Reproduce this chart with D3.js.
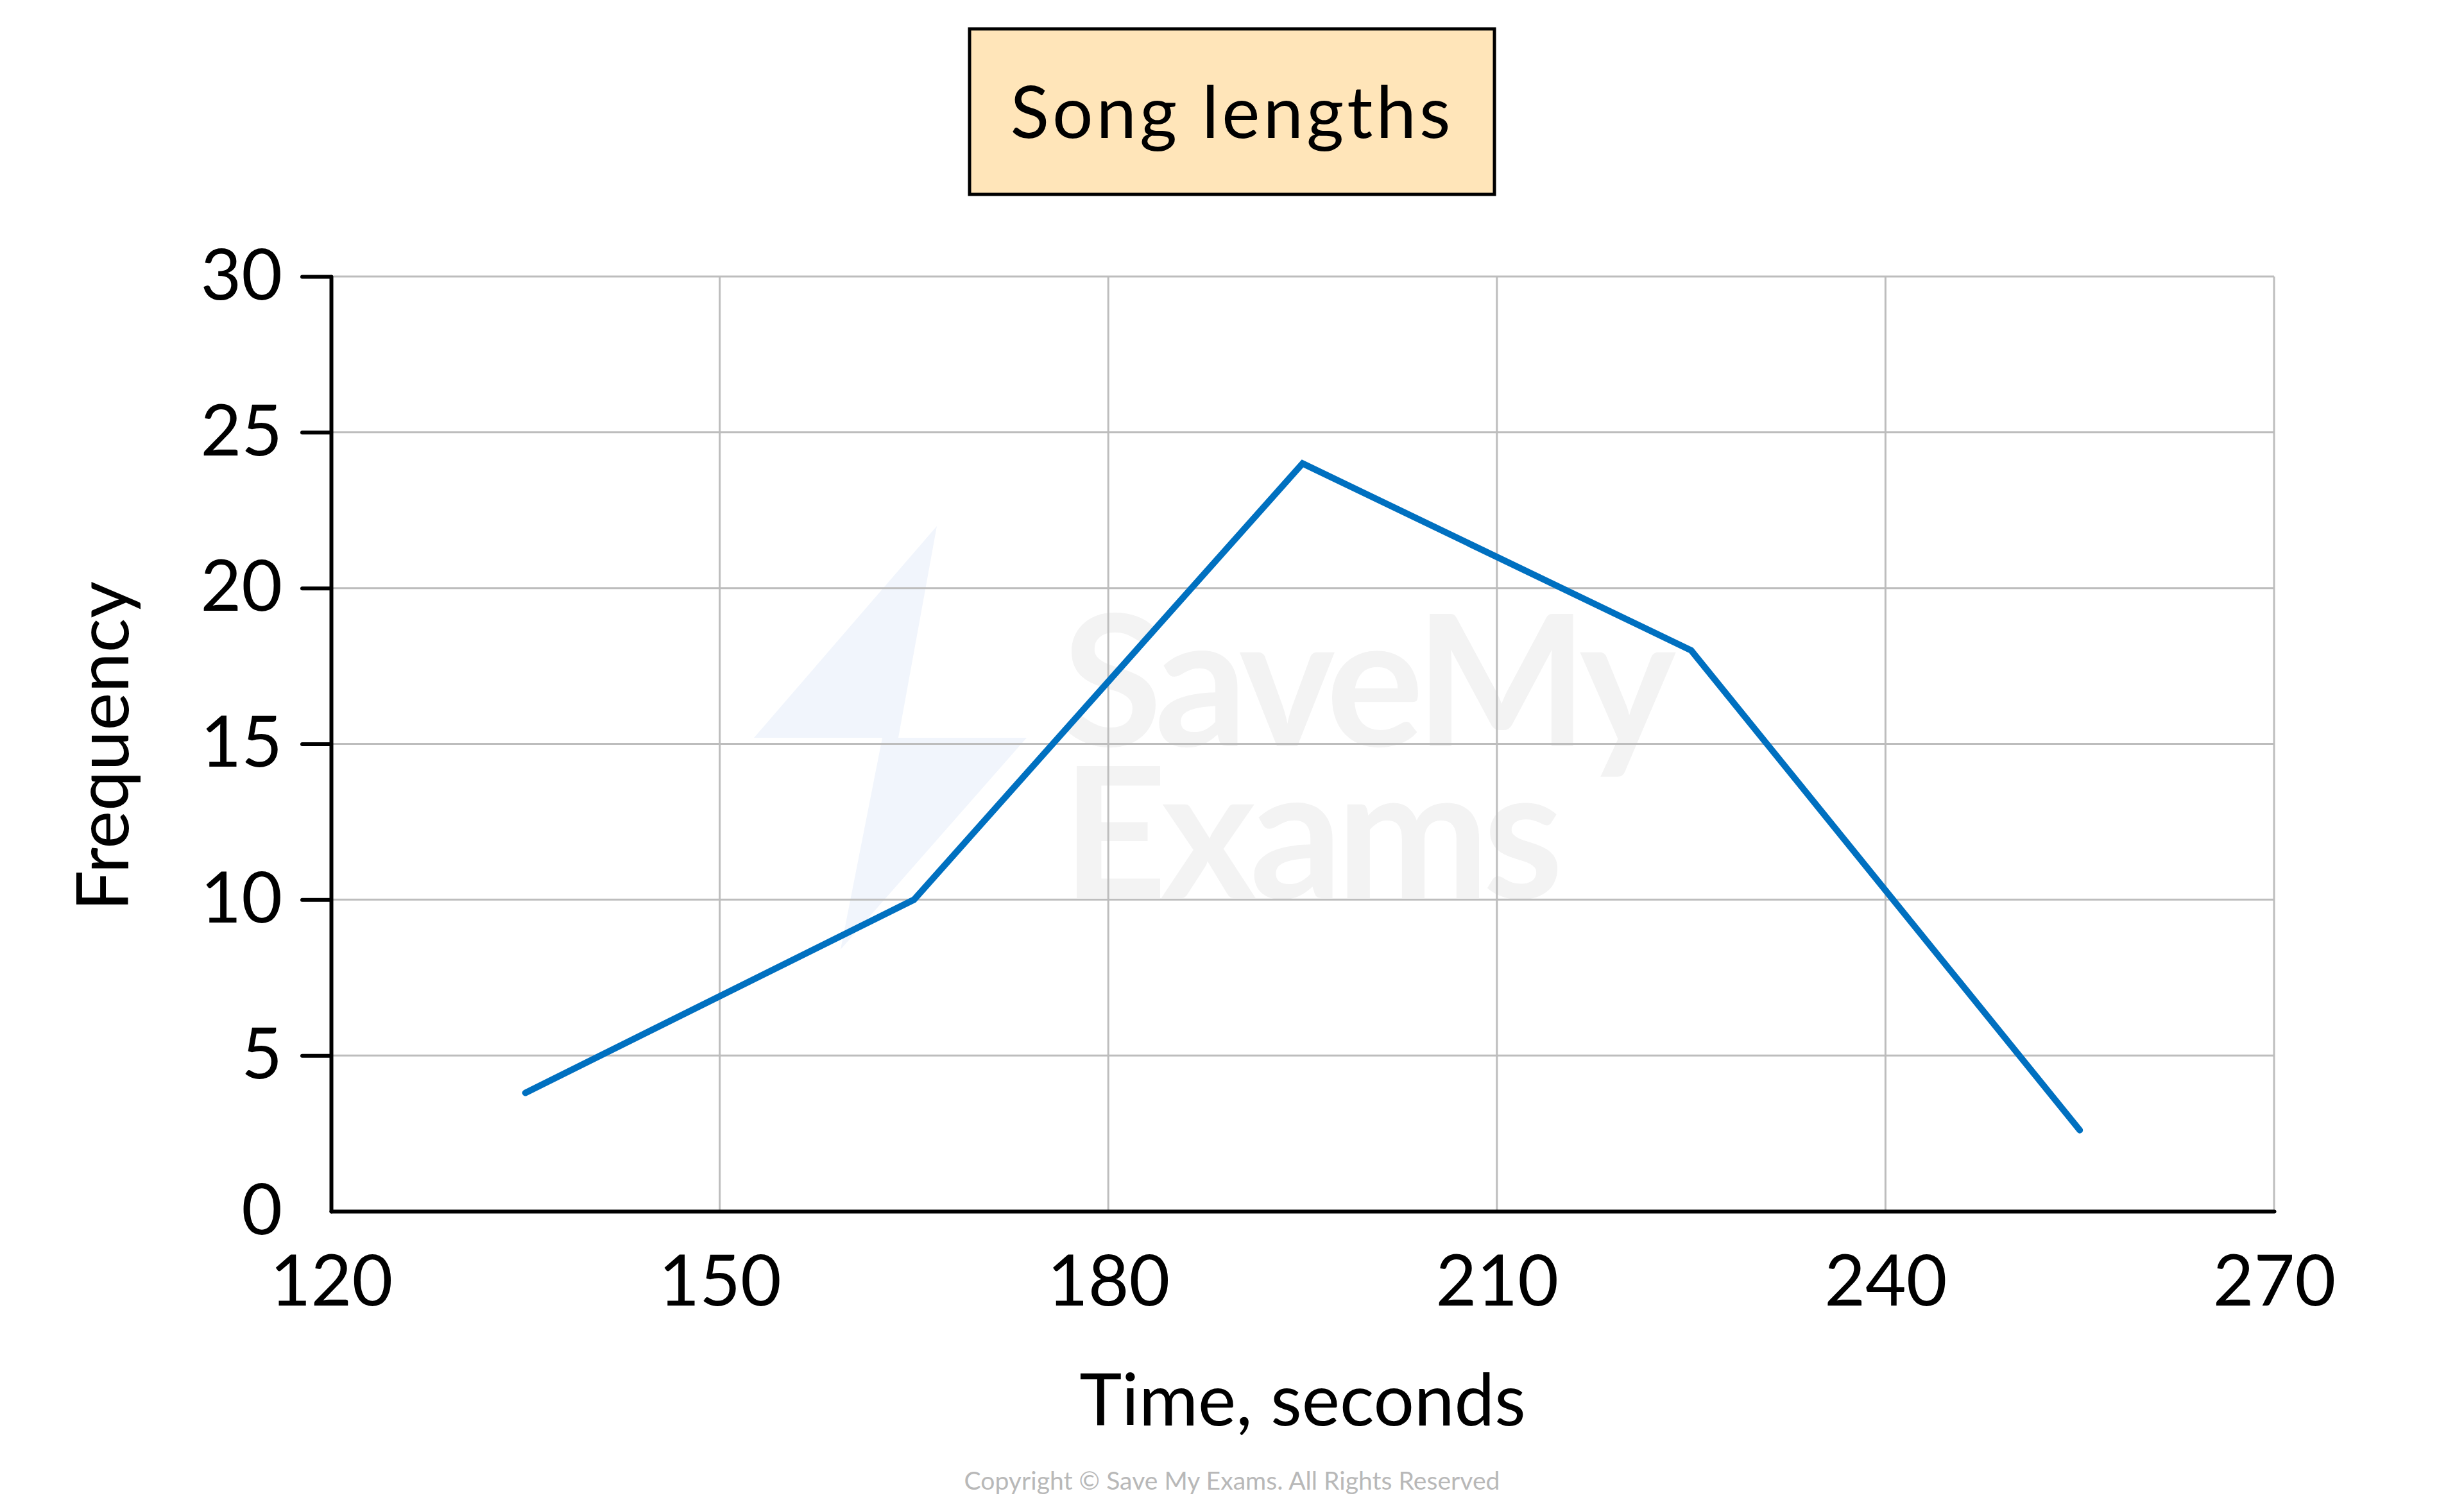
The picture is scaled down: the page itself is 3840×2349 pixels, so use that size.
<!DOCTYPE html>
<html>
<head>
<meta charset="utf-8">
<script src="https://cdn.jsdelivr.net/npm/d3@7"></script>
<style>
  html, body { margin: 0; padding: 0; background: #ffffff; }
  svg { display: block; }
  text { font-family: Lato, "Open Sans", sans-serif; }
</style>
</head>
<body>
<svg id="chart" width="3840" height="2349"></svg>
<script>
// ---- data ----
const midpoints = [135, 165, 195, 225, 255];      // class midpoints, seconds
const frequencies = [3.8, 10, 24, 18, 2.6];        // frequency
const xTicks = [120, 150, 180, 210, 240, 270];
const yTicks = [0, 5, 10, 15, 20, 25, 30];
const title = "Song lengths";
const xLabel = "Time, seconds";
const yLabel = "Frequency";
const copyright = "Copyright © Save My Exams. All Rights Reserved";
const watermarkLines = ["SaveMy", "Exams"];

// ---- layout ----
const W = 3840, H = 2349;
const plot = { left: 516, right: 3544, top: 431, bottom: 1888 };
const svg = d3.select("#chart");

const x = d3.scaleLinear().domain([120, 270]).range([plot.left, plot.right]);
const y = d3.scaleLinear().domain([0, 30]).range([plot.bottom, plot.top]);

// ---- watermark (faint) ----
const wm = svg.append("g").attr("class", "watermark");
wm.append("polygon")
  .attr("points", [[1460,820],[1175,1150],[1375,1150],[1310,1480],[1600,1150],[1400,1150]].map(p => p.join(",")).join(" "))
  .attr("fill", "#f1f5fc");
const wmText = wm.append("text")
  .attr("font-family", "Inter, 'Open Sans', sans-serif").attr("font-weight", 700)
  .attr("font-size", 285).attr("fill", "#f3f3f3").attr("letter-spacing", -10);
wmText.selectAll("tspan").data(watermarkLines).join("tspan")
  .attr("x", 1655).attr("y", (d, i) => 1163 + i * 237).text(d => d);

// ---- grid ----
const grid = svg.append("g").attr("class", "grid");
grid.selectAll("line.v").data(xTicks.slice(1)).join("line")
  .attr("class", "v")
  .attr("x1", d => x(d)).attr("x2", d => x(d))
  .attr("y1", plot.top).attr("y2", plot.bottom)
  .attr("stroke", "#bdbdbd").attr("stroke-width", 3);
grid.selectAll("line.h").data(yTicks.slice(1)).join("line")
  .attr("class", "h")
  .attr("x1", plot.left).attr("x2", plot.right)
  .attr("y1", d => y(d)).attr("y2", d => y(d))
  .attr("stroke", "#bdbdbd").attr("stroke-width", 3);

// ---- line ----
const pts = midpoints.map((m, i) => [m, frequencies[i]]);
svg.append("path")
  .datum(pts)
  .attr("d", d3.line().x(d => x(d[0])).y(d => y(d[1])))
  .attr("fill", "none")
  .attr("stroke", "#0070c0")
  .attr("stroke-width", 10)
  .attr("stroke-linecap", "round")
  .attr("stroke-linejoin", "miter");

// ---- axes ----
const xAxis = d3.axisBottom(x).tickValues(xTicks).tickSize(0).tickPadding(69).tickFormat(d3.format("d"));
const gx = svg.append("g").attr("transform", `translate(0,${plot.bottom})`).call(xAxis);
gx.select(".domain").attr("stroke", "#000").attr("stroke-width", 6).attr("stroke-linecap", "round");
gx.selectAll("text").attr("font-size", 110).attr("fill", "#000")
  .attr("font-family", "Lato, 'Open Sans', sans-serif");

const yAxis = d3.axisLeft(y).tickValues(yTicks).tickSize(45).tickPadding(31).tickSizeOuter(0).tickFormat(d3.format("d"));
const gy = svg.append("g").attr("transform", `translate(${plot.left},0)`).call(yAxis);
gy.select(".domain").attr("stroke", "#000").attr("stroke-width", 6).attr("stroke-linecap", "round");
gy.selectAll(".tick line").attr("stroke", "#000").attr("stroke-width", 6).attr("stroke-linecap", "round")
  .attr("display", d => d === 0 ? "none" : null);
gy.selectAll("text").attr("font-size", 110).attr("fill", "#000")
  .attr("font-family", "Lato, 'Open Sans', sans-serif");

// ---- title box ----
svg.append("rect")
  .attr("x", 1511).attr("y", 45).attr("width", 818).attr("height", 258)
  .attr("fill", "#ffe5b9").attr("stroke", "#000").attr("stroke-width", 5);
svg.append("text")
  .attr("x", 1920).attr("y", 215)
  .attr("text-anchor", "middle").attr("font-size", 112).attr("fill", "#000")
  .attr("letter-spacing", 5)
  .text(title);

// ---- axis titles ----
svg.append("text")
  .attr("x", 2030).attr("y", 2222)
  .attr("text-anchor", "middle").attr("font-size", 112).attr("fill", "#000")
  .text(xLabel);
svg.append("text")
  .attr("transform", "translate(200,1163) rotate(-90)")
  .attr("text-anchor", "middle").attr("font-size", 112).attr("fill", "#000")
  .text(yLabel);

// ---- copyright ----
svg.append("text")
  .attr("x", 1920).attr("y", 2322)
  .attr("text-anchor", "middle").attr("font-size", 38).attr("fill", "#b8b8b8")
  .attr("font-family", "'Open Sans', sans-serif")
  .attr("textLength", 835).attr("lengthAdjust", "spacingAndGlyphs")
  .text(copyright);
</script>
</body>
</html>
